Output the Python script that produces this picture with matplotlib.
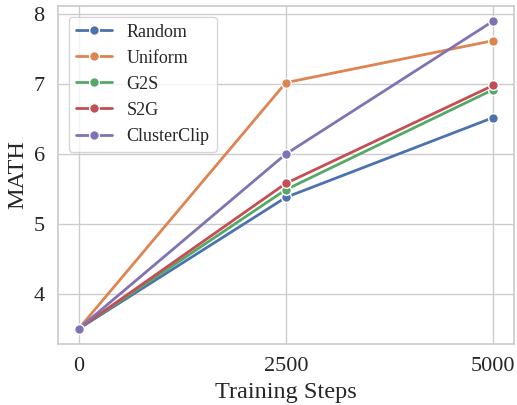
import matplotlib
matplotlib.use("Agg")
import matplotlib.pyplot as plt
import seaborn as sns

steps = [0, 2500, 5000]
random_vals = [3.5, 5.38, 6.52]
uniform_vals = [3.5, 7.02, 7.62]
g2s_vals = [3.5, 5.49, 6.92]
s2g_vals = [3.5, 5.58, 6.98]
clusterclip_vals = [3.5, 6.0, 7.9]

series = [
    ("Random", random_vals),
    ("Uniform", uniform_vals),
    ("G2S", g2s_vals),
    ("S2G", s2g_vals),
    ("ClusterClip", clusterclip_vals),
]

sns.set_theme(style="whitegrid")
plt.rcParams['font.family'] = ['Liberation Serif', 'DejaVu Serif']

fig, ax = plt.subplots(figsize=(5.17, 4.05), dpi=100)
colors = sns.color_palette("deep")
for i, (name, vals) in enumerate(series):
    ax.plot(steps, vals, marker='o', color=colors[i], label=name,
            linewidth=2, markersize=7, markeredgecolor='white', markeredgewidth=1)

ax.set_xticks(steps)
ax.set_yticks([4, 5, 6, 7, 8])
ax.tick_params(labelsize=16)
ax.set_xlabel("Training Steps", fontsize=17.5)
ax.set_ylabel("MATH", fontsize=17.5)
ax.legend(loc="upper left", fontsize=13, borderaxespad=0.6)

fig.subplots_adjust(left=0.112, right=0.994, top=0.986, bottom=0.15)
fig.savefig("out.png", dpi=100)
